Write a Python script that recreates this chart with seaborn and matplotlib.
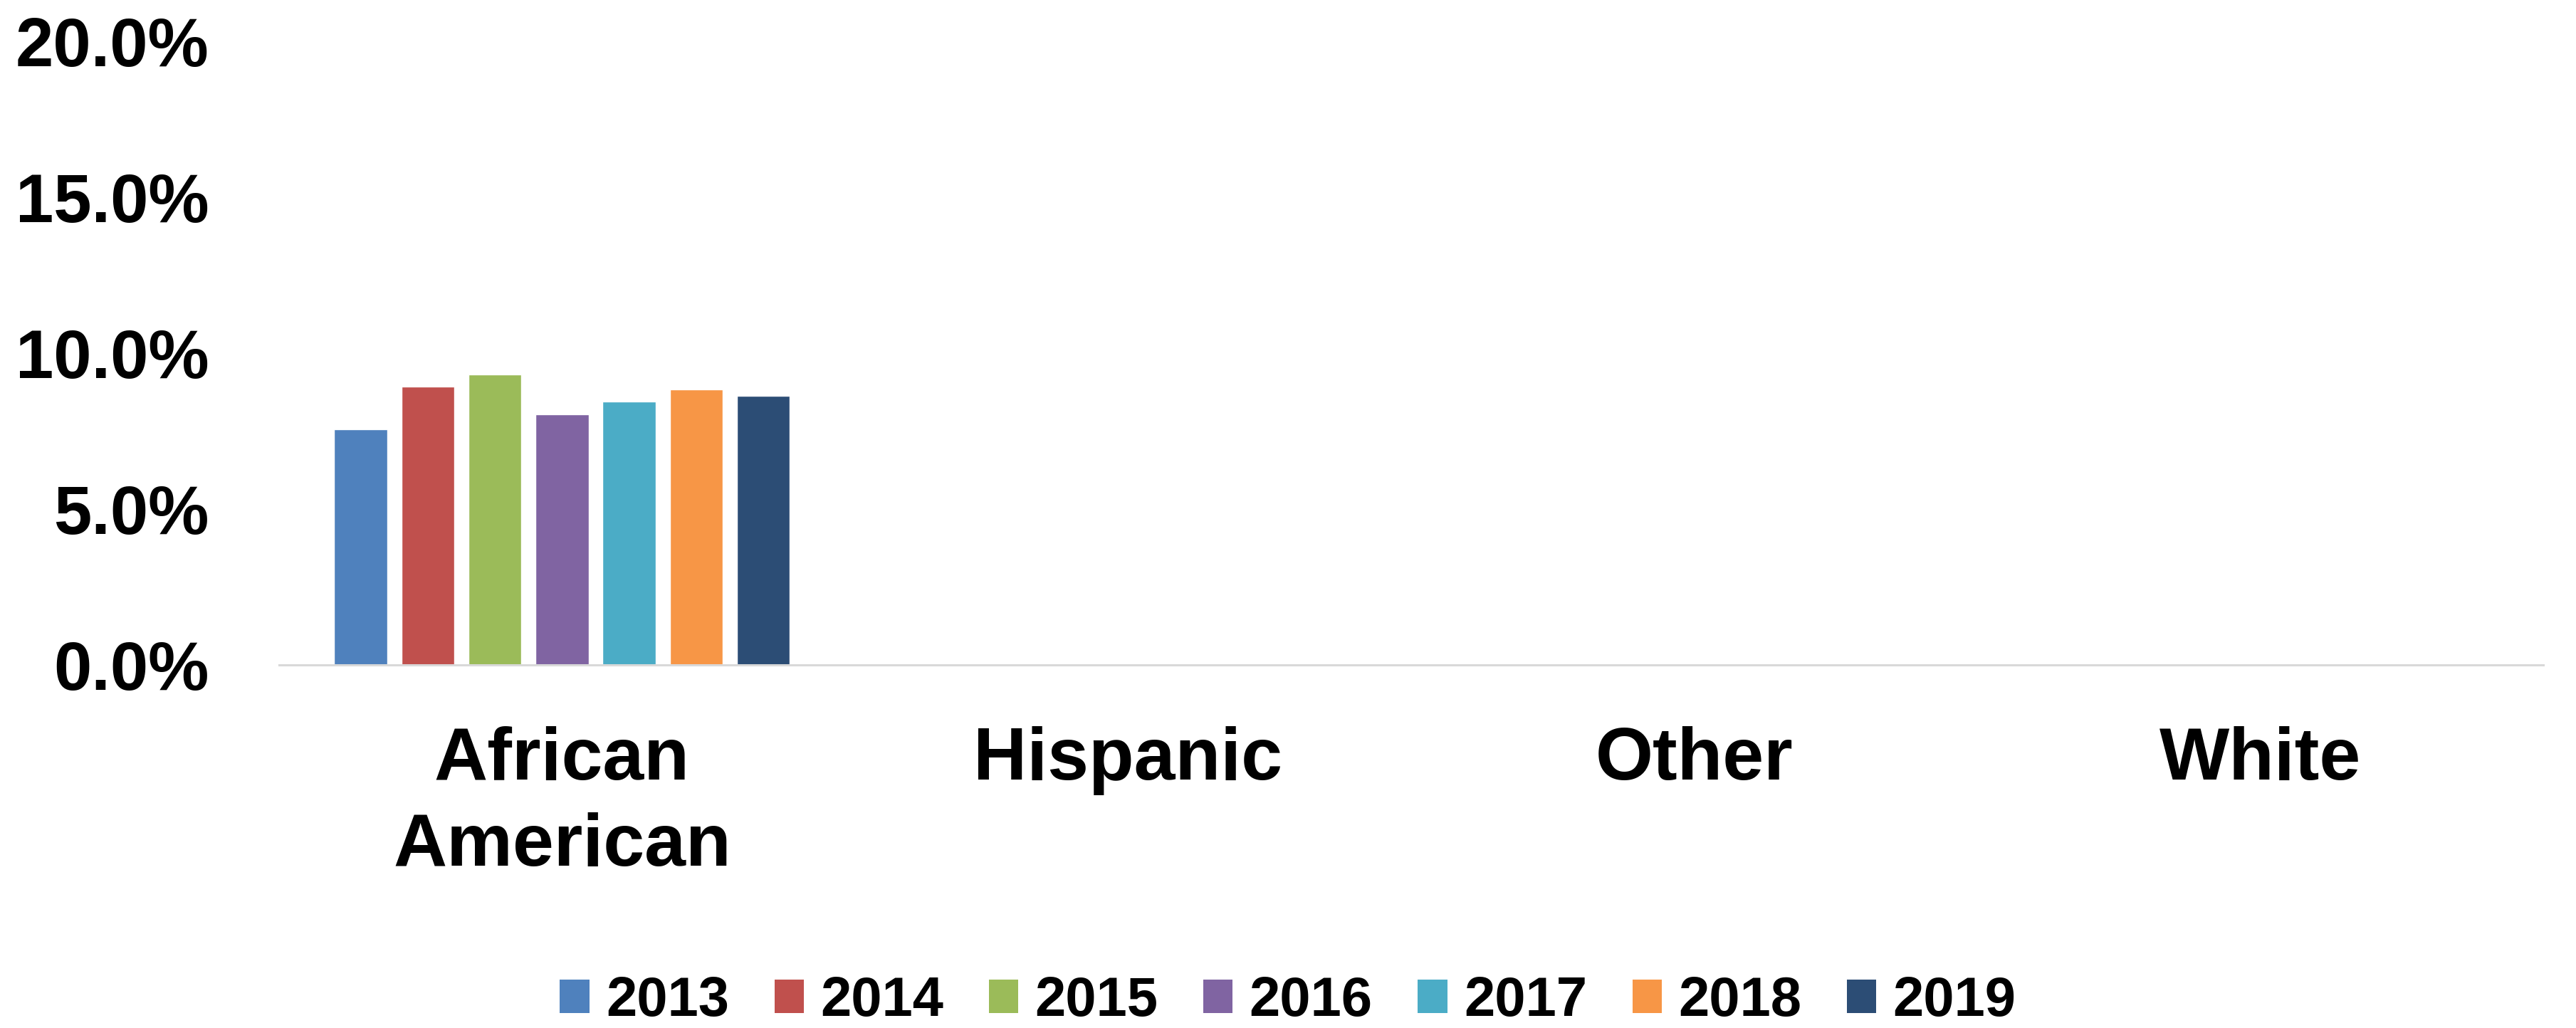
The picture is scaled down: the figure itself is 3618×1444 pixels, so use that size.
import pandas as pd
import numpy as np
import matplotlib
matplotlib.use("Agg")
import matplotlib.pyplot as plt
import seaborn as sns
from matplotlib.ticker import FuncFormatter
from matplotlib.patches import Patch

# Chart data (only African American has values in the source chart)
categories = ["African\nAmerican", "Hispanic", "Other", "White"]
years = ["2013", "2014", "2015", "2016", "2017", "2018", "2019"]
african_american = [0.0755, 0.0892, 0.0932, 0.0804, 0.0845, 0.0884, 0.0864]
year_colors = ["#4F81BD", "#C0504D", "#9BBB59", "#8064A2", "#4BACC6", "#F79646", "#2C4D75"]

df = pd.DataFrame({
    "group": [categories[0]] * len(years),
    "year": years,
    "share": african_american,
})

sns.set_theme(style="white")
plt.rcParams["font.family"] = ["Liberation Sans", "DejaVu Sans"]
plt.rcParams["font.weight"] = "bold"
plt.rcParams["text.color"] = "black"
plt.rcParams["xtick.color"] = "black"
plt.rcParams["ytick.color"] = "black"

fig = plt.figure(figsize=(36.18, 14.44), dpi=100)
ax = fig.add_axes([0.1083, 0.3532, 0.879, 0.6066])

sns.barplot(data=df, x="group", y="share", hue="year", order=categories,
            hue_order=years, palette=year_colors, width=0.83, gap=0.21,
            saturation=1, ax=ax, legend=False)

ax.set_ylim(0, 0.20)
ax.set_yticks([0, 0.05, 0.10, 0.15, 0.20])
ax.yaxis.set_major_formatter(FuncFormatter(lambda v, p: "{:.1%}".format(v)))
ax.set_xlabel("")
ax.set_ylabel("")

for s in ["top", "right", "left"]:
    ax.spines[s].set_visible(False)
ax.spines["bottom"].set_color("#D9D9D9")
ax.spines["bottom"].set_linewidth(2.2)

ax.tick_params(axis="y", length=0, pad=71, labelsize=69)
ax.tick_params(axis="x", length=0, pad=62, labelsize=75)
for lab in ax.get_yticklabels() + ax.get_xticklabels():
    lab.set_fontweight("bold")
    lab.set_color("black")
for lab in ax.get_xticklabels():
    lab.set_linespacing(1.32)

# legend along the bottom
handles = [Patch(facecolor=c, edgecolor="none") for c in year_colors]
fig.legend(handles, years, loc="center", bbox_to_anchor=(0.5, 0.026), ncol=7,
           frameon=False, prop={"weight": "bold", "size": 56},
           handlelength=0.53, handleheight=0.56, handletextpad=0.3,
           columnspacing=0.82, labelcolor="black")

fig.savefig("out.png", dpi=100)
